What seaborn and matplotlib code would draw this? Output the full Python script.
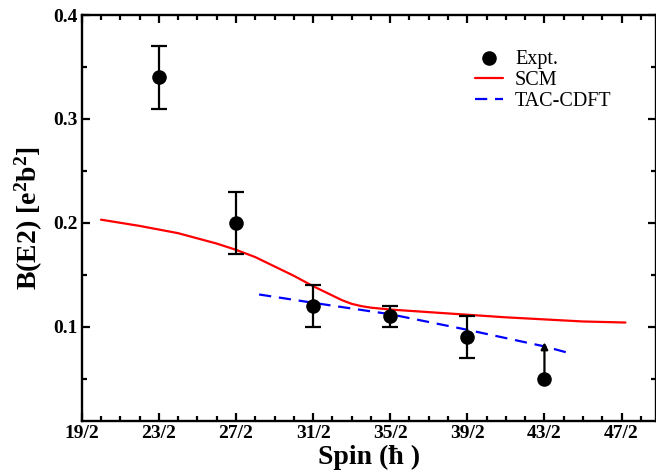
import matplotlib
matplotlib.use("Agg")
import matplotlib.pyplot as plt
import seaborn as sns
import pandas as pd
from matplotlib.ticker import MultipleLocator, FixedLocator

# ---- data ----
spin_expt = [11.5, 13.5, 15.5, 17.5, 19.5, 21.5]
bE2_expt = [0.34, 0.20, 0.12, 0.11, 0.09, 0.05]
err_expt = [0.03, 0.03, 0.02, 0.01, 0.02, 0.0]
limit_spin = 21.5
limit_low = 0.05
limit_high = 0.085

spin_scm = [10.0, 11.0, 12.0, 13.0, 13.5, 14.0, 14.5, 15.0, 15.5, 15.75, 16.0, 16.25,
            16.5, 16.75, 17.0, 17.5, 18.5, 19.5, 20.5, 21.5, 22.5, 23.6]
bE2_scm = [0.203, 0.197, 0.190, 0.180, 0.174, 0.167, 0.158, 0.149, 0.139, 0.1345, 0.130,
           0.1255, 0.122, 0.1198, 0.1183, 0.1165, 0.114, 0.1115, 0.109, 0.107, 0.105, 0.104]

spin_tac = [14.1, 15.5, 17.5, 19.5, 21.5, 22.2]
bE2_tac = [0.131, 0.123, 0.112, 0.097, 0.081, 0.074]

xtick_values = [9.5, 11.5, 13.5, 15.5, 17.5, 19.5, 21.5, 23.5]
xtick_labels = ["19/2", "23/2", "27/2", "31/2", "35/2", "39/2", "43/2", "47/2"]
ytick_values = [0.1, 0.2, 0.3, 0.4]
ytick_labels = ["0.1", "0.2", "0.3", "0.4"]

# ---- style ----
sns.set_style("ticks")
plt.rcParams["font.family"] = ["Liberation Serif", "DejaVu Serif"]
plt.rcParams["text.color"] = "black"
plt.rcParams["axes.labelcolor"] = "black"
plt.rcParams["xtick.color"] = "black"
plt.rcParams["ytick.color"] = "black"
plt.rcParams["mathtext.fontset"] = "custom"
plt.rcParams["mathtext.rm"] = "Liberation Serif:bold"
plt.rcParams["mathtext.bf"] = "Liberation Serif:bold"
plt.rcParams["mathtext.it"] = "Liberation Serif:bold"

fig = plt.figure(figsize=(6.56, 4.74), dpi=100)
ax = fig.add_axes([81.7 / 656, 1 - 420.7 / 474, (655.5 - 81.7) / 656, (420.7 - 15) / 474])

df_scm = pd.DataFrame({"spin": spin_scm, "b": bE2_scm})
df_tac = pd.DataFrame({"spin": spin_tac, "b": bE2_tac})
df_exp = pd.DataFrame({"spin": spin_expt, "b": bE2_expt, "err": err_expt})

# error bars (not for the lower limit point)
ax.errorbar(spin_expt[:-1], bE2_expt[:-1], yerr=err_expt[:-1], fmt="none",
            ecolor="black", elinewidth=1.6, capsize=5.5, capthick=1.6, zorder=3)
ax.annotate("", xy=(limit_spin, limit_high), xytext=(limit_spin, limit_low),
            arrowprops=dict(arrowstyle="-|>", color="black", lw=1.6,
                            mutation_scale=10, shrinkA=0, shrinkB=0), zorder=3)

sns.lineplot(data=df_scm, x="spin", y="b", ax=ax, color="#ff0000", lw=1.6,
             label="SCM", zorder=2)
sns.lineplot(data=df_tac, x="spin", y="b", ax=ax, color="#0000ff", lw=1.6,
             dashes=False, label="TAC-CDFT", zorder=2)
ax.lines[-1].set_dashes((5.5, 3.5))
sns.scatterplot(data=df_exp, x="spin", y="b", ax=ax, color="black", s=110,
                edgecolor="black", linewidth=0, label="Expt.", zorder=4)

ax.set_xlim(9.5, 24.38)
ax.set_ylim(0.0095, 0.4)

ax.xaxis.set_major_locator(FixedLocator(xtick_values))
ax.set_xticklabels(xtick_labels)
ax.xaxis.set_minor_locator(MultipleLocator(0.5))
ax.yaxis.set_major_locator(FixedLocator(ytick_values))
ax.set_yticklabels(ytick_labels)
ax.yaxis.set_minor_locator(MultipleLocator(0.05))

for s in ax.spines.values():
    s.set_visible(True)
    s.set_linewidth(1.7)
    s.set_color("black")

ax.tick_params(which="both", direction="in", top=True, right=True, width=1.6,
               colors="black", labelsize=14, pad=3)
ax.tick_params(which="major", length=6)
ax.tick_params(which="minor", length=3.5)
for lab in ax.get_xticklabels() + ax.get_yticklabels():
    lab.set_fontweight("bold")

ax.set_xlabel("Spin (ħ )", fontsize=20, fontweight="bold", labelpad=2, color="black")
ax.set_ylabel(r"B(E2) [e$^{2}$b$^{2}$]", fontsize=20, fontweight="bold", labelpad=6,
              color="black")

handles, labels = ax.get_legend_handles_labels()
order = [labels.index(l) for l in ["Expt.", "SCM", "TAC-CDFT"]]
leg = ax.legend([handles[i] for i in order], [labels[i] for i in order],
                loc="upper left", bbox_to_anchor=(0.685, 0.915), frameon=False,
                fontsize=14.5, handlelength=1.4, handletextpad=0.6,
                labelspacing=0.1, borderpad=0, borderaxespad=0)
for t in leg.get_texts():
    t.set_color("black")

fig.savefig("out.png", dpi=100)
